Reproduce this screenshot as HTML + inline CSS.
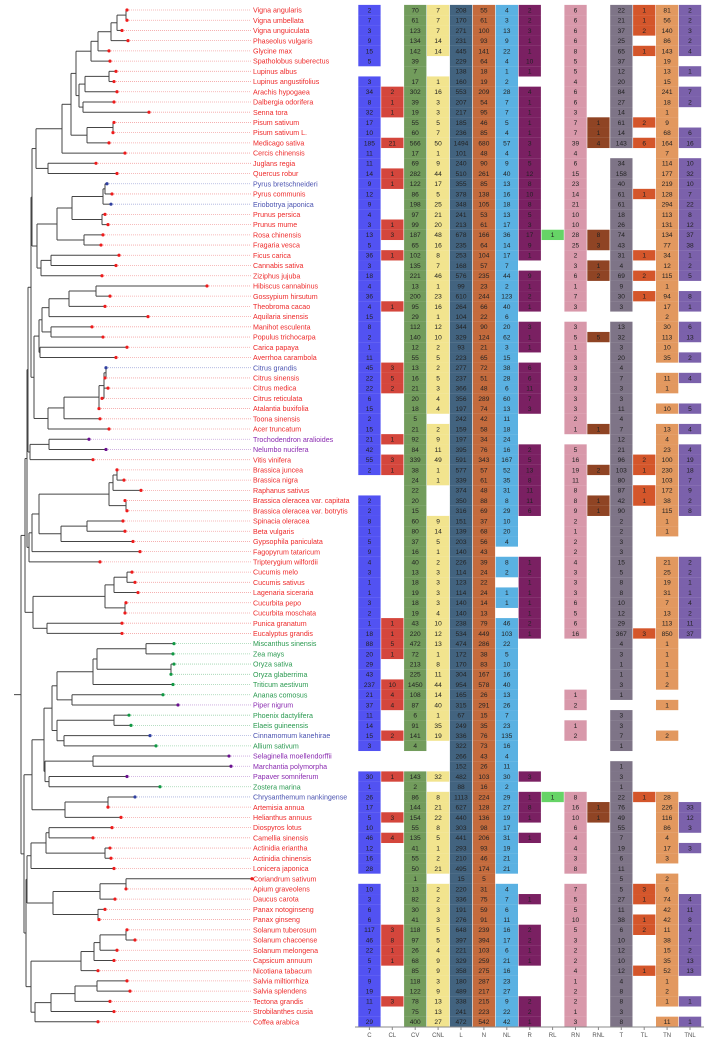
<!DOCTYPE html>
<html><head><meta charset="utf-8"><style>
html,body{margin:0;padding:0;background:#fff;}
svg{display:block;font-family:"Liberation Sans",sans-serif;}
</style></head><body>
<svg id="s" width="708" height="1040" xmlns="http://www.w3.org/2000/svg"></svg>
<script>
var names=["Vigna angularis","Vigna umbellata","Vigna unguiculata","Phaseolus vulgaris","Glycine max","Spatholobus suberectus","Lupinus albus","Lupinus angustifolius","Arachis hypogaea","Dalbergia odorifera","Senna tora","Pisum sativum","Pisum sativum L.","Medicago sativa","Cercis chinensis","Juglans regia","Quercus robur","Pyrus bretschneideri","Pyrus communis","Eriobotrya japonica","Prunus persica","Prunus mume","Rosa chinensis","Fragaria vesca","Ficus carica","Cannabis sativa","Ziziphus jujuba","Hibiscus cannabinus","Gossypium hirsutum","Theobroma cacao","Aquilaria sinensis","Manihot esculenta","Populus trichocarpa","Carica papaya","Averrhoa carambola","Citrus grandis","Citrus sinensis","Citrus medica","Citrus reticulata","Atalantia buxifolia","Toona sinensis","Acer truncatum","Trochodendron aralioides","Nelumbo nucifera","Vitis vinifera","Brassica juncea","Brassica nigra","Raphanus sativus","Brassica oleracea var. capitata","Brassica oleracea var. botrytis","Spinacia oleracea","Beta vulgaris","Gypsophila paniculata","Fagopyrum tataricum","Tripterygium wilfordii","Cucumis melo","Cucumis sativus","Lagenaria siceraria","Cucurbita pepo","Cucurbita moschata","Punica granatum","Eucalyptus grandis","Miscanthus sinensis","Zea mays","Oryza sativa","Oryza glaberrima","Triticum aestivum","Ananas comosus","Piper nigrum","Phoenix dactylifera","Elaeis guineensis","Cinnamomum kanehirae","Allium sativum","Selaginella moellendorffii","Marchantia polymorpha","Papaver somniferum","Zostera marina","Chrysanthemum nankingense","Artemisia annua","Helianthus annuus","Diospyros lotus","Camellia sinensis","Actinidia eriantha","Actinidia chinensis","Lonicera japonica","Coriandrum sativum","Apium graveolens","Daucus carota","Panax notoginseng","Panax ginseng","Solanum tuberosum","Solanum chacoense","Solanum melongena","Capsicum annuum","Nicotiana tabacum","Salvia miltiorrhiza","Salvia splendens","Tectona grandis","Strobilanthes cusia","Coffea arabica"];
var tips=[127,127,122,128,109,110,116,114,117,114,149,114,113,109,125,96,117,107,112,111,105,108,103,101,119,116,102,207,110,105,148,92,103,127,116,106,105,108,102,99,100,109,89,106,93,117,124,141,125,127,123,125,133,140,100,132,135,138,126,125,122,122,174,173,174,171,173,163,178,129,131,150,156,229,231,127,160,135,108,121,112,93,110,111,114,252,126,115,105,99,127,135,117,114,98,127,130,110,114,98];
var D=`2,,70,7,208,55,4,2,,6,,22,1,81,2
7,,61,7,170,61,3,2,,6,,21,1,56,2
3,,123,7,271,100,13,3,,6,,37,2,140,3
9,,134,14,231,93,9,1,,6,,25,,86,2
15,,142,14,445,141,22,1,,8,,65,1,143,4
5,,39,,229,64,4,10,,5,,37,,19,
,,7,,138,18,1,1,,5,,12,,13,1
3,,17,1,160,19,2,,,4,,20,,15,
34,2,302,16,553,209,28,4,,6,,84,,241,7
8,1,39,3,207,54,7,1,,6,,27,,18,2
32,1,19,3,217,95,7,1,,3,,14,,1,
17,,55,5,185,46,5,1,,7,1,61,2,9,
10,,60,7,236,85,4,1,,7,1,14,,68,6
185,21,566,50,1494,680,57,3,,39,4,143,6,164,16
11,,17,1,101,48,4,1,,4,,,,7,
11,,69,9,240,90,9,5,,6,,34,,114,10
14,1,282,44,510,261,40,12,,15,,158,,177,32
9,1,122,17,355,85,13,8,,23,,40,,219,10
12,,86,5,378,138,16,10,,14,,61,1,128,7
9,,198,25,348,105,18,8,,21,,61,,294,22
4,,97,21,241,53,13,5,,10,,18,,113,8
3,1,99,20,213,61,17,3,,10,,26,,131,12
13,3,187,48,678,166,36,17,1,28,8,74,,134,37
5,,65,16,235,64,14,9,,25,3,43,,77,38
36,1,102,8,253,104,17,1,,2,,31,1,34,1
3,,135,7,168,57,7,,,3,1,4,,12,2
18,,221,46,576,235,44,9,,6,2,69,2,115,5
4,,13,1,99,23,2,1,,1,,9,,1,
36,,200,23,610,244,123,2,,7,,30,1,94,8
4,1,95,16,264,66,40,1,,3,,3,,17,1
15,,29,1,104,22,6,,,,,,,2,
8,,112,12,344,90,20,3,,3,,13,,30,6
2,,140,10,329,124,62,1,,5,5,32,,113,13
1,,12,2,93,21,3,1,,1,,3,,10,
11,,55,5,223,65,15,,,3,,20,,35,2
45,3,13,2,277,72,38,6,,3,,4,,,
22,5,16,5,237,51,28,6,,3,,7,,11,4
22,2,21,3,366,48,6,11,,3,,3,,1,
6,,20,4,356,289,60,7,,3,,3,,,
15,,18,4,197,74,13,3,,3,,11,,10,5
2,,5,,242,42,11,,,2,,4,,,
15,,21,2,159,58,18,,,1,1,7,,13,4
21,1,92,9,197,34,24,,,,,12,,4,
42,,84,11,395,76,16,2,,5,,21,,23,4
55,3,339,49,591,343,167,5,,16,,96,2,100,19
2,1,38,1,577,57,52,13,,19,2,103,1,230,18
,,24,1,339,61,35,8,,11,,80,,103,7
,,22,,374,48,31,11,,8,,87,1,172,9
2,,20,,350,88,8,11,,8,1,42,1,38,2
2,,15,,316,69,29,6,,9,1,90,,115,8
8,,60,9,151,37,10,,,2,,2,,1,
1,,80,14,139,68,20,,,1,,2,,1,
5,,37,5,203,56,4,,,2,,3,,,
9,,16,1,140,43,,,,2,,3,,,
4,,40,2,226,39,8,1,,4,,15,,21,2
3,,13,3,114,24,2,2,,3,,5,,25,2
1,,18,3,123,22,,1,,3,,8,,19,1
1,,19,3,114,24,1,1,,3,,8,,31,1
3,,18,3,140,14,1,1,,6,,10,,7,4
2,,19,4,140,13,,1,,5,,12,,13,2
1,1,43,10,238,79,46,2,,6,,29,,113,11
18,1,220,12,534,449,103,1,,16,,367,3,850,37
88,5,472,13,474,286,22,,,,,4,,1,
20,1,72,1,172,38,5,,,,,3,,1,
29,,213,8,170,83,10,,,,,1,,1,
43,,225,11,304,167,16,,,,,1,,1,
237,10,1450,44,954,578,40,,,,,3,,2,
21,4,108,14,165,26,13,,,1,,1,,,
37,4,87,40,315,291,26,,,2,,,,1,
11,,6,1,67,15,7,,,,,3,,,
14,,91,35,249,35,23,,,1,,3,,,
15,2,141,19,336,76,135,,,2,,7,,2,
3,,4,,322,73,16,,,,,1,,,
,,,,266,43,4,,,,,,,,
,,,,152,26,11,,,,,1,,,
30,1,143,32,482,103,30,3,,,,3,,,
1,,2,,88,16,2,,,,,1,,,
26,,86,8,1113,224,29,1,1,8,,22,1,28,
17,,144,21,627,128,27,8,,16,1,76,,226,33
5,3,154,22,440,136,19,1,,10,1,49,,116,12
10,,55,8,303,98,17,,,6,,55,,86,3
46,4,135,5,441,206,31,1,,4,,7,,4,
12,,41,1,293,93,19,,,4,,19,,17,3
16,,55,2,210,46,21,,,3,,6,,3,
28,,50,21,495,174,21,,,8,,11,,,
,,1,,15,5,,,,,,5,,2,
10,,13,2,220,31,4,,,7,,5,3,6,
3,,82,2,336,75,7,1,,5,,27,1,74,4
6,,30,3,191,59,6,,,5,,11,,42,11
6,,41,3,276,91,11,,,10,,38,1,42,8
117,3,118,5,648,239,16,2,,5,,6,2,11,4
46,8,97,5,397,394,17,2,,3,,10,,38,7
22,1,26,4,221,103,6,1,,2,,12,,15,2
5,1,68,9,329,259,21,1,,2,,10,,35,13
7,,85,9,358,275,16,,,4,,12,1,52,13
9,,118,3,180,287,23,,,1,,4,,1,
19,,122,9,489,217,27,,,2,,8,,2,
11,3,78,13,338,215,9,2,,2,,8,,1,1
7,,75,13,241,223,22,2,,1,,3,,,
29,,400,27,472,542,42,1,,3,,8,,11,1`.split("\n").map(function(r){return r.split(",");});
var cols=["C","CL","CV","CNL","L","N","NL","R","RL","RN","RNL","T","TL","TN","TNL"];
var cc=["#5252f2","#d4463c","#729c5c","#f2e48e","#42637f","#c46b3d","#5ab1e2","#7a2062","#66d466","#d898aa","#8f4424","#7e7487","#d4562b","#e2985f","#7b61ab"];
var blue=[18,20,36,72,78],purp=[43,44,69,74,75,76],green=[63,64,65,66,67,68,70,71,73,77];
function Y(i){return 10+(i-1)*10.22;}
var out=[];
function node(n){ if(typeof n==="number") return {x:tips[n-1],y:Y(n)};
 var x=n[0],ch=n.slice(1).map(node);
 var y0=ch[0].y,y1=ch[ch.length-1].y;
 out.push('<line x1="'+x+'" y1="'+y0+'" x2="'+x+'" y2="'+y1+'" stroke="#444" stroke-width="1"/>');
 ch.forEach(function(c){out.push('<line x1="'+x+'" y1="'+c.y+'" x2="'+c.x+'" y2="'+c.y+'" stroke="#444" stroke-width="1"/>');});
 return {x:x,y:(y0+y1)/2};}
var A=[91,[98,[111,[117,[126,1,2],3],4],5],6];
var B=[79,[85,[109,7,8],9],[83,10,11]];
var Cc=[87,[113,12,13],14];
var Fab=[62,[71,[76,A,B],Cc],15];
var FF=[36,Fab,[48,16,17]];
var Ros=[37,[57,[72,[103,[105,18,19],20],[102,21,22]],[84,23,24]],[41,[51,25,26],27]];
var N1=[32,FF,Ros];
var MMO=[39,[42,[49,[69,[96,28,29],30],31],[51,32,33]],[40,34,35]];
var Sap=[48,[64,[99,[104,[106,36,37],38,39],40],41],42];
var R1=[28,[31,N1,[34,MMO,Sap]],[30,[49,43,44],45]];
var Car=[29,[32,[39,[109,[113,[117,46,47],48],[126,49,50]],[61,[87,51,52],53]],54],55];
var Cuc=[33,[105,[114,[127,56,57],58],[125,59,60]],[47,61,62]];
var G1=[25,[27,R1,Car],Cuc];
var M=[32,[44,[52,[57,[93,[97,[146,63,64],[171,65,66]],67],[72,68,69]],[57,[114,70,71],[64,72,73]]],[45,[93,74,75],[49,76,77]]],[65,[108,78,79],80]];
var As=[27,[31,[46,[49,81,82],[105,83,84]],85],[53,[100,[126,86,87],88],[98,89,90]]];
var Sol=[31,[81,[94,[100,[126,91,92],93],94],95],[35,[51,[75,[97,96,97],98],99],100]];
var root=[21,G1,[24,M,[26,As,Sol]]];
var r=node(root);
out.push('<line x1="14" y1="'+r.y+'" x2="21" y2="'+r.y+'" stroke="#444"/>');
for(var i=1;i<=100;i++){
 var y=Y(i),c="#ee2a2a",lc="#f4a5a5",dc="#ee1c1c";
 if(blue.indexOf(i)>=0){c="#4a52b0";lc="#aab0dd";dc="#3040a0";}
 if(purp.indexOf(i)>=0){c="#8a2ab0";lc="#c8a4dc";dc="#6a1090";}
 if(green.indexOf(i)>=0){c="#2a9a50";lc="#9ed4ae";dc="#119944";}
 var tx=tips[i-1];
 if(tx<250) out.push('<line x1="'+tx+'" y1="'+y+'" x2="251" y2="'+y+'" stroke="'+lc+'" stroke-width="0.8" stroke-dasharray="1,1"/>');
 out.push('<circle cx="'+tx+'" cy="'+y+'" r="1.6" fill="'+dc+'"/>');
 out.push('<text x="253" y="'+(y+2.6)+'" font-size="7.1" fill="'+c+'">'+names[i-1]+'</text>');
 var row=D[i-1];
 for(var j=0;j<15;j++){
  var v=row[j]; if(v===undefined||v==="")continue;
  var x=358.3+j*22.9;
  out.push('<rect x="'+x+'" y="'+(y-5.11)+'" width="22.3" height="10.3" fill="'+cc[j]+'"/>');
  out.push('<text x="'+(x+11.1)+'" y="'+(y+2.4)+'" font-size="6.6" text-anchor="middle" fill="#222">'+v+'</text>');
 }
}
out.push('<line x1="355" y1="1027" x2="704" y2="1027" stroke="#888" stroke-width="1"/>');
for(var j=0;j<15;j++){var x=358.3+j*22.9+11.1;
 out.push('<line x1="'+x+'" y1="1027" x2="'+x+'" y2="1030" stroke="#888"/>');
 out.push('<text x="'+x+'" y="1037" font-size="6" text-anchor="middle" fill="#555">'+cols[j]+'</text>');}
document.getElementById("s").innerHTML=out.join("");
</script>
</body></html>
